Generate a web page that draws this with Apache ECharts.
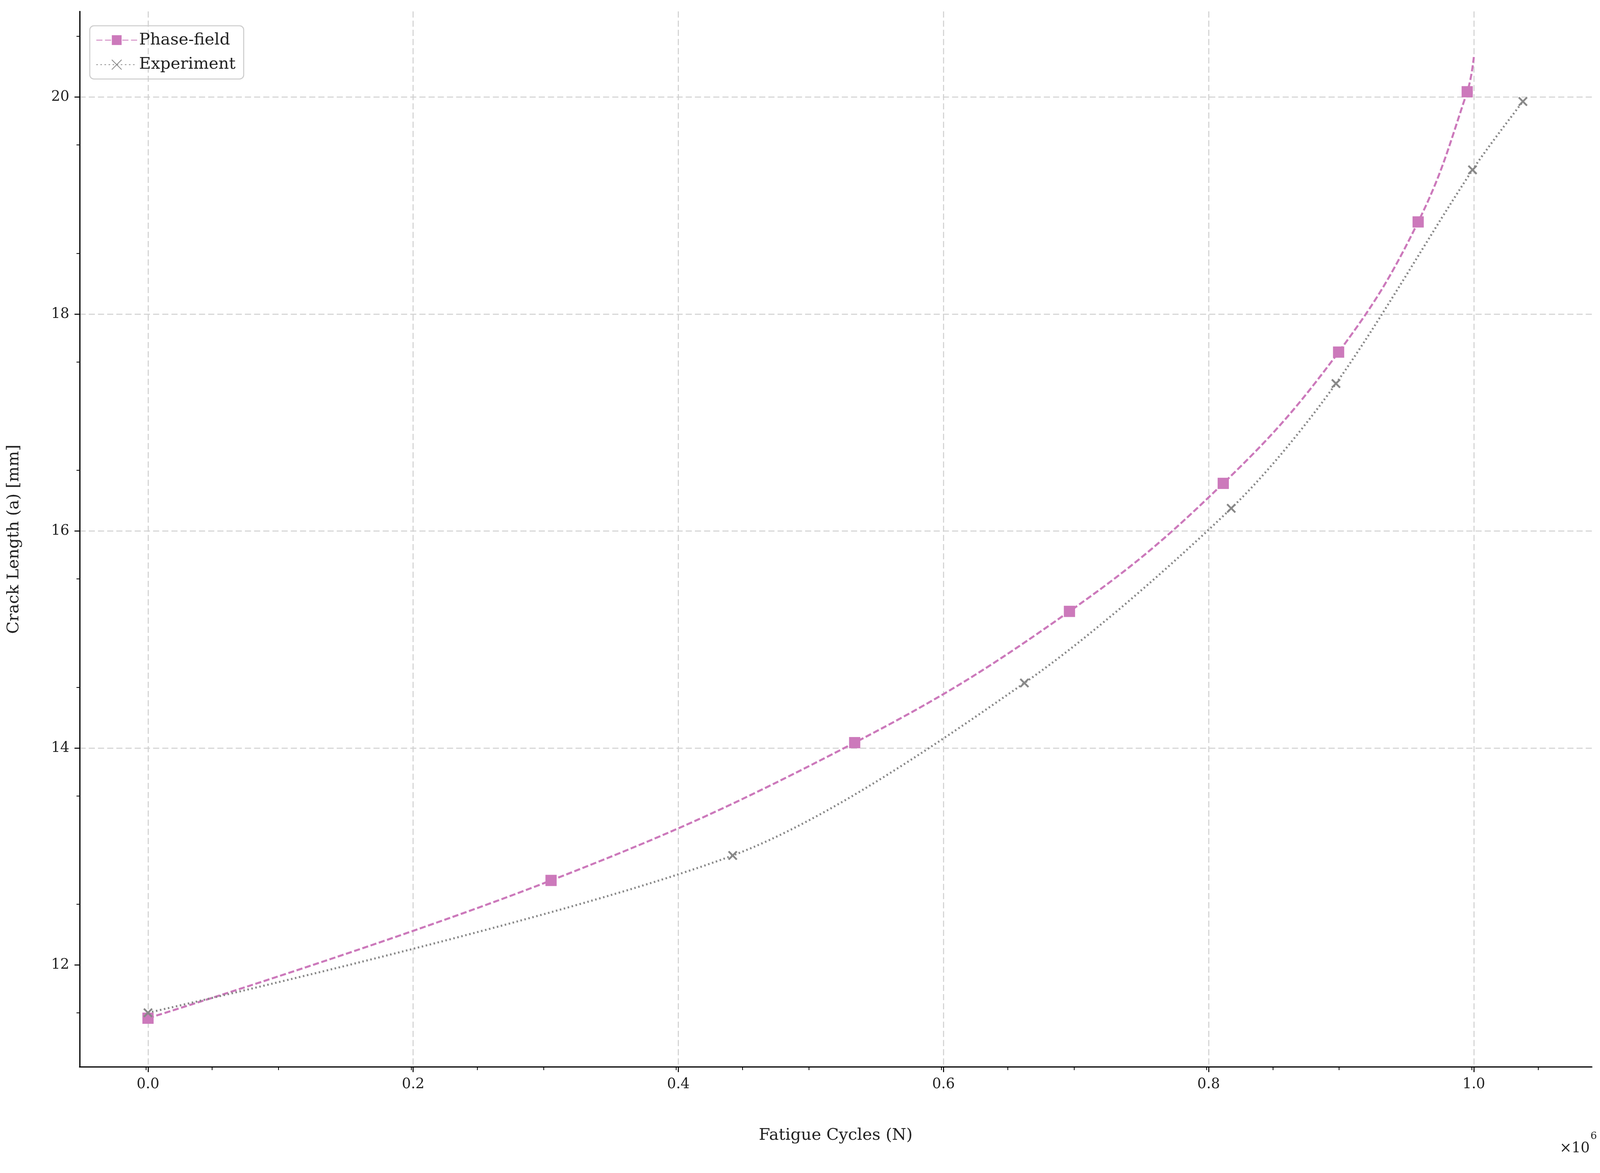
<!DOCTYPE html>
<html><head><meta charset="utf-8">
<script src="https://cdn.jsdelivr.net/npm/echarts@6/dist/echarts.min.js"></script>
<style>html,body{margin:0;padding:0;background:#fff;overflow:hidden}#c{width:100vw;height:100vh}</style>
</head><body><div id="c"></div>
<script>
const phaseN = [0, 304000, 533000, 695000, 811000, 898000, 958000, 995000, 1000000];
const phaseA = [11.51, 12.78, 14.05, 15.26, 16.44, 17.65, 18.85, 20.05, 20.37];
const expN = [0, 441000, 661000, 817000, 896000, 999000, 1037000];
const expA = [11.56, 13.01, 14.60, 16.21, 17.36, 19.33, 19.96];
const el = document.getElementById('c');
const W = el.clientWidth, H = el.clientHeight;
const s = W / 1568, sy = H / 819;
const F = 'DejaVu Serif, Liberation Serif, serif';
const pink = '#cc79bb', gray = '#888888';
const chart = echarts.init(el);
const xMark = 'path://M0,0L10,10M10,0L0,10';
chart.setOption({
  animation:false,
  grid:{left:78*s,right:8*s,top:8*sy,bottom:74*sy},
  legend:{left:88*s,top:18*sy,orient:'vertical',itemWidth:40*s,itemHeight:12*s,itemGap:8*s,
    padding:[6*s,8*s,6*s,6*s],borderColor:'#cccccc',borderWidth:1*s,borderRadius:4*s,
    textStyle:{fontFamily:F,fontSize:16*s,color:'#222'},
    data:['Phase-field','Experiment']},
  xAxis:{type:'value',min:-51600,max:1089000,interval:200000,
    name:'Fatigue Cycles (N)',nameLocation:'middle',nameGap:42*sy,
    nameTextStyle:{fontFamily:F,fontSize:16*s,color:'#222'},
    axisLine:{onZero:false,lineStyle:{color:'#000',width:1.2*s}},
    axisTick:{show:true,customValues:[0,200000,400000,600000,800000,1000000],length:5*s,lineStyle:{width:1*s}},
    minorTick:{show:true,splitNumber:4,length:3*s,lineStyle:{color:'#000',width:0.8*s}},
    axisLabel:{customValues:[0,200000,400000,600000,800000,1000000],fontFamily:F,fontSize:14*s,color:'#222',margin:10*s,
      formatter:v=>(v/1e6).toFixed(1)},
    splitLine:{show:true,lineStyle:{color:'#d0d0d0',type:[6*s,3*s],width:1*s}}},
  yAxis:{type:'value',min:11.06,max:20.79,
    name:'Crack Length (a) [mm]',nameLocation:'middle',nameGap:56*s,
    nameTextStyle:{fontFamily:F,fontSize:16*s,color:'#222'},
    axisLine:{show:true,onZero:false,lineStyle:{color:'#000',width:1.2*s}},
    axisTick:{show:true,customValues:[12,14,16,18,20],length:5*s,lineStyle:{width:1*s}},
    minorTick:{show:true,splitNumber:2,length:3*s,lineStyle:{color:'#000',width:0.8*s}},
    interval:1,
    axisLabel:{customValues:[12,14,16,18,20],fontFamily:F,fontSize:14*s,color:'#222',margin:10*s},
    splitLine:{show:true,showMinLine:false,lineStyle:{color:'#d0d0d0',type:[6*s,3*s],width:1*s}}},
  graphic:[{type:'text',right:10*s,bottom:12*sy,style:{text:'×10',font:`${14*s}px ${F}`,fill:'#222'}},
    {type:'text',right:3*s,bottom:22*sy,style:{text:'6',font:`${10*s}px ${F}`,fill:'#222'}}],
  series:[
    {name:'Phase-field',type:'line',smooth:0.4,symbol:'rect',symbolSize:11*s,
      data:phaseN.map((n,i)=>i===phaseN.length-1?{value:[n,phaseA[i]],symbol:'none'}:[n,phaseA[i]]),
      lineStyle:{color:pink,width:2*s,type:[6*s,2.5*s]},itemStyle:{color:pink}},
    {name:'Experiment',type:'line',smooth:0.3,symbol:xMark,symbolSize:8*s,
      data:expN.map((n,i)=>[n,expA[i]]),
      lineStyle:{color:gray,width:2*s,type:[1.5*s,2.5*s]},
      itemStyle:{color:'none',borderColor:gray,borderWidth:1.8*s}}
  ]
});
</script></body></html>
